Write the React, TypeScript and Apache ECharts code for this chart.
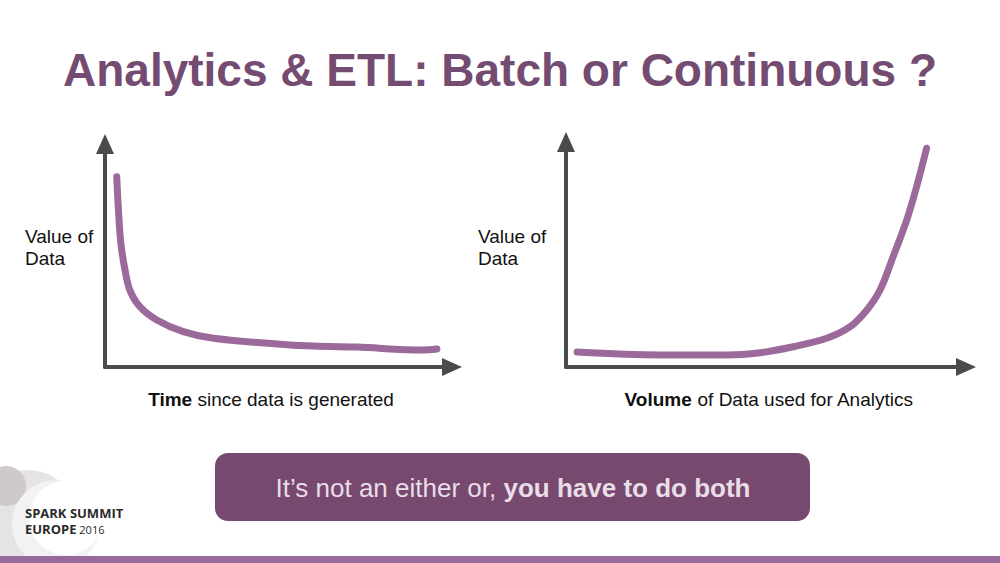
import React, { useEffect, useRef } from "react";
import * as echarts from "echarts";

// Left chart: value of data vs time since generated
const leftX = [3.4, 3.9, 4.6, 5.8, 7.2, 10.1, 15.0, 22.7, 31.4, 53.6, 73.0, 92.2, 96.2];
const leftY = [86.1, 71.0, 55.9, 43.9, 34.8, 27.3, 21.3, 16.0, 13.0, 10.0, 9.0, 7.7, 8.1];

// Right chart: value of data vs volume used
const rightX = [2.8, 23.6, 40.5, 48.7, 57.1, 65.5, 71.4, 75.6, 78.9, 82.2, 85.6, 88.1, 90.6];
const rightY = [6.7, 5.4, 5.4, 6.4, 9.1, 12.9, 18.1, 25.6, 34.5, 49.5, 65.9, 80.9, 98.1];

const titleText = "Analytics & ETL: Batch or Continuous ?";
const yLabel = "Value of\nData";
const leftXLabelBold = "Time";
const leftXLabelRest = " since data is generated";
const rightXLabelBold = "Volume";
const rightXLabelRest = " of Data used for Analytics";
const bannerRegular = "It\u2019s not an either or, ";
const bannerBold = "you have to do both";

const AXIS_COLOR = "#4b4a4d";
const CURVE_COLOR = "#9b6a9b";
const TITLE_COLOR = "#744b71";
const FONT = "Liberation Sans";
const LOGO_FONT = "Open Sans";

function axisPair(gridIndex: number) {
  const axisLine = {
    show: true,
    onZero: false,
    symbol: ["none", "triangle"],
    symbolSize: [18, 20],
    symbolOffset: [0, 2],
    lineStyle: { color: AXIS_COLOR, width: 4 },
  };
  const common = {
    type: "value",
    gridIndex,
    min: 0,
    max: 100,
    axisLine,
    axisTick: { show: false },
    axisLabel: { show: false },
    splitLine: { show: false },
  };
  return { x: { ...common }, y: { ...common } };
}

export default function App() {
  const ref = useRef<HTMLDivElement>(null);
  useEffect(() => {
    document.body.style.margin = "0";
    if (!ref.current) return;
    const chart = echarts.init(ref.current, null, { renderer: "svg" });
    const a0 = axisPair(0);
    const a1 = axisPair(1);
    const curve = { color: CURVE_COLOR, width: 7, cap: "round", join: "round" };
    const option: any = {
      animation: false,
      backgroundColor: "#ffffff",
      grid: [
        { left: 105, top: 146, width: 345, height: 221 },
        { left: 566, top: 144, width: 398, height: 223 },
      ],
      xAxis: [a0.x, a1.x],
      yAxis: [a0.y, a1.y],
      series: [
        {
          type: "line",
          xAxisIndex: 0,
          yAxisIndex: 0,
          data: leftX.map((x, i) => [x, leftY[i]]),
          smooth: 0.35,
          showSymbol: false,
          lineStyle: curve,
        },
        {
          type: "line",
          xAxisIndex: 1,
          yAxisIndex: 1,
          data: rightX.map((x, i) => [x, rightY[i]]),
          smooth: 0.35,
          showSymbol: false,
          lineStyle: curve,
        },
      ],
      graphic: [
        // logo background shapes (drawn first)
        {
          type: "circle",
          shape: { cx: 28, cy: 520, r: 50 },
          style: { fill: "#e6e3e6" },
        },
        {
          type: "circle",
          shape: { cx: 6, cy: 486, r: 20 },
          style: { fill: "#cdc9cd" },
        },
        {
          type: "circle",
          shape: { cx: 56, cy: 524, r: 44 },
          style: { fill: "#f3f1f3" },
        },
        {
          type: "circle",
          shape: { cx: 66, cy: 518, r: 37 },
          style: { fill: "#ffffff" },
        },
        {
          type: "text",
          x: 500,
          y: 70,
          style: {
            text: titleText,
            fontFamily: FONT,
            fontSize: 46,
            fontWeight: "bold",
            fill: TITLE_COLOR,
            textAlign: "center",
            textVerticalAlign: "middle",
          },
        },
        {
          type: "text",
          x: 25,
          y: 247,
          style: {
            text: yLabel,
            fontFamily: FONT,
            fontSize: 19,
            lineHeight: 22,
            fill: "#111111",
            textAlign: "left",
            textVerticalAlign: "middle",
          },
        },
        {
          type: "text",
          x: 478,
          y: 247,
          style: {
            text: yLabel,
            fontFamily: FONT,
            fontSize: 19,
            lineHeight: 22,
            fill: "#111111",
            textAlign: "left",
            textVerticalAlign: "middle",
          },
        },
        {
          type: "text",
          x: 271,
          y: 399,
          style: {
            text: `{b|${leftXLabelBold}}{r|${leftXLabelRest}}`,
            textAlign: "center",
            textVerticalAlign: "middle",
            rich: {
              b: { fontFamily: FONT, fontSize: 19, fontWeight: "bold", fill: "#111111" },
              r: { fontFamily: FONT, fontSize: 19, fill: "#111111" },
            },
          },
        },
        {
          type: "text",
          x: 769,
          y: 399,
          style: {
            text: `{b|${rightXLabelBold}}{r|${rightXLabelRest}}`,
            textAlign: "center",
            textVerticalAlign: "middle",
            rich: {
              b: { fontFamily: FONT, fontSize: 19, fontWeight: "bold", fill: "#111111" },
              r: { fontFamily: FONT, fontSize: 19, fill: "#111111" },
            },
          },
        },
        {
          type: "rect",
          shape: { x: 215, y: 453, width: 595, height: 68, r: 13 },
          style: { fill: "#77496f" },
        },
        {
          type: "text",
          x: 513,
          y: 488,
          style: {
            text: `{r|${bannerRegular}}{b|${bannerBold}}`,
            textAlign: "center",
            textVerticalAlign: "middle",
            rich: {
              r: { fontFamily: FONT, fontSize: 26, fill: "#e9dde8" },
              b: { fontFamily: FONT, fontSize: 26, fontWeight: "bold", fill: "#e9dde8" },
            },
          },
        },
        {
          type: "text",
          x: 25,
          y: 513,
          style: {
            text: "SPARK SUMMIT",
            fontFamily: LOGO_FONT,
            fontSize: 13,
            fontWeight: "bold",
            fill: "#2a2a2a",
            textAlign: "left",
            textVerticalAlign: "middle",
          },
        },
        {
          type: "text",
          x: 25,
          y: 529,
          style: {
            text: "{b|EUROPE}{r| 2016}",
            textAlign: "left",
            textVerticalAlign: "middle",
            rich: {
              b: { fontFamily: LOGO_FONT, fontSize: 13, fontWeight: "bold", fill: "#2a2a2a" },
              r: { fontFamily: LOGO_FONT, fontSize: 11, fill: "#2a2a2a" },
            },
          },
        },
        {
          type: "rect",
          shape: { x: 0, y: 556, width: 1000, height: 7 },
          style: { fill: "#98699a" },
        },
      ],
    };
    chart.setOption(option);
    return () => chart.dispose();
  }, []);
  return <div ref={ref} style={{ width: 1000, height: 563 }} />;
}
